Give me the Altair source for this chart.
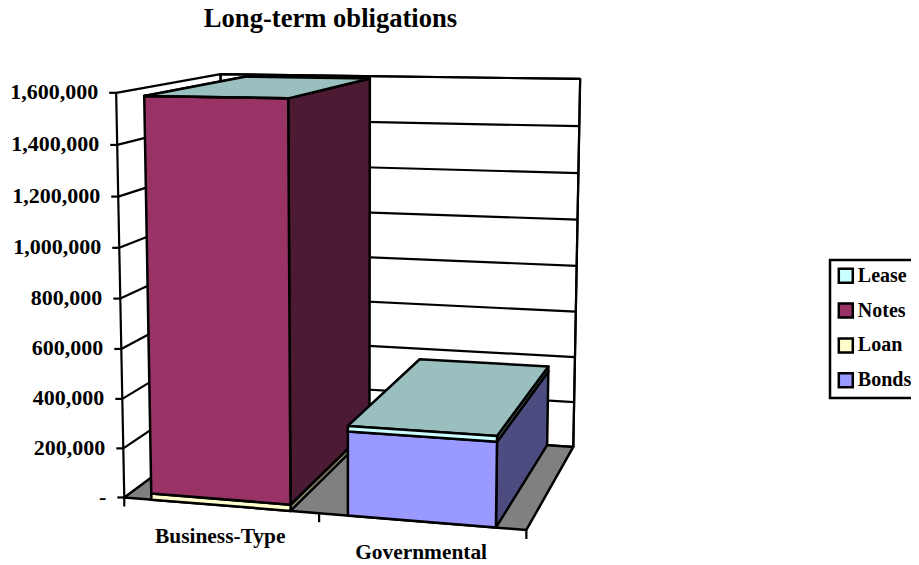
import altair as alt
import numpy as np
import pandas as pd

TITLE = "Long-term obligations"
categories = ["Business-Type", "Governmental"]
series = ["Bonds", "Loan", "Notes", "Lease"]
legend_order = ["Lease", "Notes", "Loan", "Bonds"]
bonds = [0, 330000]
loan = [25000, 0]
notes = [1565000, 0]
lease = [0, 22000]
tick_values = [0, 200000, 400000, 600000, 800000, 1000000, 1200000, 1400000, 1600000]
tick_labels = ["-", "200,000", "400,000", "600,000", "800,000", "1,000,000", "1,200,000", "1,400,000", "1,600,000"]
series_colors = {"Bonds": "#9999FF", "Loan": "#FFFFCC", "Notes": "#993366", "Lease": "#CCFFFF"}
values_by_series = {"Bonds": bonds, "Loan": loan, "Notes": notes, "Lease": lease}
VMAX = 1600000
BAR_SHARE = 1 / 1.4  # category share of the bar (gap width 40%)

# Camera calibration: landmarks of the oblique view of the chart box
box_3d = [(0, 0, 0), (0, 0, 1), (0, 1, 1), (1, 1, 0), (1, 1, 1), (1, 0, 0), (.5, 0, 0),
          (.0714, 0, .994), (.4286, 0, .994), (.4286, 1, .994), (.0714, 1, .994),
          (.5714, 0, 0), (.9286, 0, 0), (.5714, 0, .2156), (.9286, 0, .2156),
          (.5714, 1, .2156), (.9286, 1, .2156), (.9286, 1, 0)]
box_2d = [(125, 498), (116, 92), (220, 73), (573, 448), (581, 79), (526, 530), (319, 515),
          (144, 96), (288, 99), (370, 79), (245, 78),
          (348, 515), (496, 528), (348, 426), (497, 437),
          (420, 359), (548, 367), (547, 446)]


def fit_camera():
    rows, rhs = [], []
    for (a, b, c), (px, py) in zip(box_3d, box_2d):
        rows.append([a, b, c, 1, 0, 0, 0, 0, -px * a, -px * b, -px * c])
        rhs.append(px)
        rows.append([0, 0, 0, 0, a, b, c, 1, -py * a, -py * b, -py * c])
        rhs.append(py)
    sol = np.linalg.lstsq(np.array(rows, float), np.array(rhs, float), rcond=None)[0]
    return np.append(sol, 1).reshape(3, 4)


CAM = fit_camera()


def project(u, w, value):
    p = CAM @ np.array([u, w, value / VMAX, 1.0])
    return float(p[0] / p[2]), float(p[1] / p[2])


X = alt.X("x:Q", scale=alt.Scale(domain=[8, 911], zero=False, nice=False), axis=None)
Y = alt.Y("y:Q", scale=alt.Scale(domain=[565, 8], zero=False, nice=False), axis=None)


def face(points, fill, stroke_width=2.5):
    xy = [project(*p) for p in points]
    df = pd.DataFrame({"x": [q[0] for q in xy], "y": [q[1] for q in xy], "i": range(len(xy))})
    return alt.Chart(df).mark_line(
        interpolate="linear-closed", fill=fill, stroke="black", strokeWidth=stroke_width, strokeJoin="round"
    ).encode(x=X, y=Y, order=alt.Order("i:Q"))


def seg(points, width=2.2):
    xy = [project(*p) for p in points]
    df = pd.DataFrame({"x": [q[0] for q in xy], "y": [q[1] for q in xy], "i": range(len(xy))})
    return alt.Chart(df).mark_line(stroke="black", strokeWidth=width).encode(x=X, y=Y, order=alt.Order("i:Q"))


def shade(color, factor):
    rgb = [int(color[i:i + 2], 16) for i in (1, 3, 5)]
    return "#" + "".join(f"{int(round(c * factor)):02X}" for c in rgb)


def text(df, size, align="center"):
    return alt.Chart(df).mark_text(
        font="Liberation Serif", fontWeight="bold", fontSize=size, align=align, baseline="alphabetic", color="black"
    ).encode(x=X, y=Y, text="t:N")


layers = []

# Legend carrier
legend_df = pd.DataFrame({"s": legend_order, "x": [20] * 4, "y": [20] * 4})
layers.append(
    alt.Chart(legend_df).mark_square(size=0, opacity=1).encode(
        x=X, y=Y,
        fill=alt.Fill("s:N", scale=alt.Scale(domain=legend_order, range=[series_colors[s] for s in legend_order]),
                      legend=alt.Legend(title=None, orient="none", legendX=822, legendY=252, symbolType="square",
                                        symbolSize=196, symbolStrokeColor="black", symbolStrokeWidth=2.5,
                                        strokeColor="black", fillColor="white", padding=5.8, rowPadding=10.8,
                                        labelFont="Liberation Serif", labelFontWeight="bold", labelFontSize=20,
                                        labelColor="black", labelOffset=2, labelLimit=200, symbolOpacity=1)),
    )
)

# Walls and floor
layers.append(face([(0, 1, 0), (1, 1, 0), (1, 1, VMAX), (0, 1, VMAX)], "white", 2.2))
layers.append(face([(0, 0, 0), (1, 0, 0), (1, 1, 0), (0, 1, 0)], "#808080", 2.5))
for v in tick_values[1:]:
    layers.append(seg([(0, 0, v), (0, 1, v), (1, 1, v)]))
layers.append(seg([(0, 0, 0), (0, 0, VMAX)]))
layers.append(seg([(0, 1, 0), (0, 1, VMAX)]))
layers.append(seg([(1, 1, 0), (1, 1, VMAX)]))

# Axis ticks
for v in tick_values:
    px, py = project(0, 0, v)
    d = pd.DataFrame({"x": [px - 7, px], "y": [py, py]})
    layers.append(alt.Chart(d).mark_line(stroke="black", strokeWidth=2.2).encode(x=X, y=Y))
for u in (0, .5, 1):
    px, py = project(u, 0, 0)
    d = pd.DataFrame({"x": [px, px], "y": [py, py + 9]})
    layers.append(alt.Chart(d).mark_line(stroke="black", strokeWidth=2.2).encode(x=X, y=Y))

# Bars
for c, cat in enumerate(categories):
    mid = (c + .5) / len(categories)
    half = BAR_SHARE / len(categories) / 2
    u0, u1 = mid - half, mid + half
    base = 0
    for s in series:
        val = values_by_series[s][c]
        top = base + val
        col = series_colors[s]
        if val > 0 or s == series[-1]:
            layers.append(face([(u1, 0, base), (u1, 1, base), (u1, 1, top), (u1, 0, top)], shade(col, .5)))
            layers.append(face([(u0, 0, top), (u1, 0, top), (u1, 1, top), (u0, 1, top)], shade(col, .75)))
            layers.append(face([(u0, 0, base), (u1, 0, base), (u1, 0, top), (u0, 0, top)], col))
        base = top

# Value labels
rows = []
for v, lab in zip(tick_values, tick_labels):
    px, py = project(0, 0, v)
    rows.append({"x": px - 18, "y": py + 6.5, "t": lab})
layers.append(text(pd.DataFrame(rows), 22, "right"))

# Category labels
rows = []
for c, cat in enumerate(categories):
    px, py = project((c + .5) / len(categories), 0, 0)
    rows.append({"x": px, "y": py + 38, "t": cat})
layers.append(text(pd.DataFrame(rows), 21.4))

# Title
layers.append(text(pd.DataFrame({"x": [330.5], "y": [27], "t": [TITLE]}), 26.6))

chart = alt.layer(*layers).properties(
    width=903, height=557, padding=0, autosize=alt.AutoSizeParams(type="none"), background="white"
).configure_view(stroke=None).configure_legend(strokeWidth=2.5)

chart.save("out.html", embed_options={"renderer": "svg", "actions": False})
